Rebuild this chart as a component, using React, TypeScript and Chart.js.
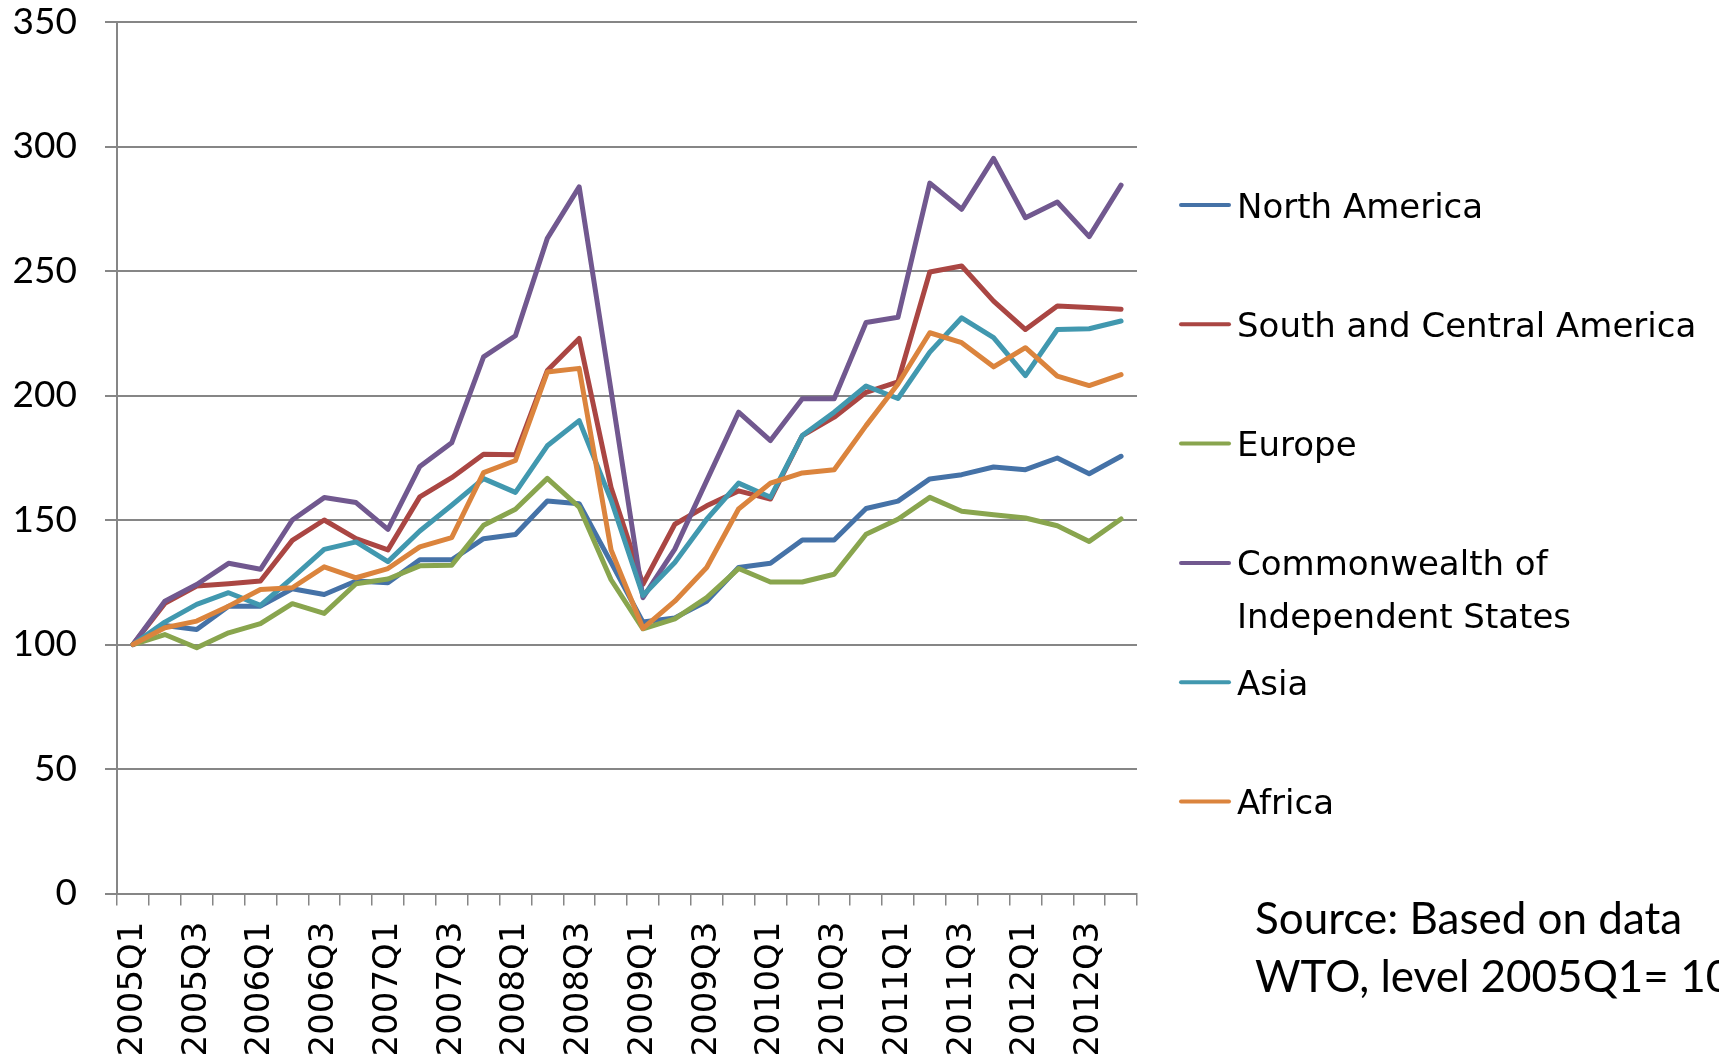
import React, { useEffect, useRef } from 'react';
import { Chart, registerables } from 'chart.js';

Chart.register(...registerables);

const quarters = [
  '2005Q1', '2005Q2', '2005Q3', '2005Q4',
  '2006Q1', '2006Q2', '2006Q3', '2006Q4',
  '2007Q1', '2007Q2', '2007Q3', '2007Q4',
  '2008Q1', '2008Q2', '2008Q3', '2008Q4',
  '2009Q1', '2009Q2', '2009Q3', '2009Q4',
  '2010Q1', '2010Q2', '2010Q3', '2010Q4',
  '2011Q1', '2011Q2', '2011Q3', '2011Q4',
  '2012Q1', '2012Q2', '2012Q3', '2012Q4',
];

const northAmerica = [100, 107.6, 106, 115.4, 115.4, 122.4, 120.1, 125.5, 124.8, 134, 134, 142.5, 144.2, 157.6, 156.5, 133, 109, 110.7, 117.4, 130.9, 132.6, 142, 142, 154.6, 157.6, 166.5, 168.2, 171.3, 170.2, 174.9, 168.6, 175.6];
const southCentralAmerica = [100, 116.5, 123.5, 124.4, 125.5, 141.8, 150, 142.5, 138, 159.3, 167, 176.4, 176.2, 210, 222.9, 163, 124.2, 148.3, 155.7, 161.7, 158.4, 183.9, 191.3, 201.3, 205.5, 249.6, 252, 237.9, 226.5, 235.9, 235.3, 234.6];
const europe = [100, 104, 98.7, 104.7, 108.4, 116.4, 112.5, 124.4, 126.3, 131.6, 131.8, 147.9, 154.3, 166.7, 155.2, 126, 106.3, 110.3, 118.8, 130.5, 125.1, 125.1, 128.2, 144.3, 150.3, 159.1, 153.5, 152.1, 150.8, 147.7, 141.4, 150.4];
const cis = [100, 117.4, 124.1, 132.6, 130.2, 150, 159, 157, 146.2, 171.5, 181, 215.5, 224, 263.1, 283.8, 202, 118.8, 138.3, 165.8, 193.3, 181.9, 198.7, 198.7, 229.3, 231.4, 285.3, 274.8, 295.2, 271.4, 277.7, 263.8, 284.5];
const asia = [100, 109, 116.1, 120.8, 115.7, 126.8, 138.2, 141.2, 133.3, 145.6, 155.9, 166.6, 161.1, 179.8, 189.9, 158, 119.7, 132.9, 150.3, 164.8, 159.1, 183.9, 193.3, 203.8, 198.8, 217.4, 231.2, 223.2, 208, 226.5, 226.8, 229.9];
const africa = [100, 106.7, 109.4, 115.4, 122.1, 122.8, 131.2, 126.8, 130.5, 139.2, 142.9, 169, 173.9, 209.4, 210.9, 138, 106.5, 117.4, 130.9, 154.4, 164.8, 168.9, 170.2, 187.9, 204.6, 225.2, 221.2, 211.5, 219.2, 207.8, 204, 208.4];

const seriesNames = ['North America', 'South and Central America', 'Europe', 'Commonwealth of Independent States', 'Asia', 'Africa'];
const seriesData = [northAmerica, southCentralAmerica, europe, cis, asia, africa];
const seriesColors = ['#4572A7', '#AA4643', '#89A54E', '#71588F', '#4198AF', '#DB843D'];
const legendLines = [['North America'], ['South and Central America'], ['Europe'], ['Commonwealth of', 'Independent States'], ['Asia'], ['Africa']];
const sourceLines = ['Source: Based on data', 'WTO, level 2005Q1= 100'];

const yMin = 0;
const yMax = 350;
const yStep = 50;

const GRID = '#868686';

const sideTextPlugin = {
  id: 'sideText',
  afterDraw(chart: any) {
    const ctx = chart.ctx as CanvasRenderingContext2D;
    ctx.save();
    ctx.font = '34px "DejaVu Sans"';
    ctx.textBaseline = 'alphabetic';
    ctx.textAlign = 'left';
    legendLines.forEach((lines, i) => {
      const y = 205 + i * 119.3;
      ctx.strokeStyle = seriesColors[i];
      ctx.lineWidth = 4;
      ctx.lineCap = 'round';
      ctx.beginPath();
      ctx.moveTo(1181, y);
      ctx.lineTo(1229, y);
      ctx.stroke();
      ctx.fillStyle = '#000';
      lines.forEach((t, j) => ctx.fillText(t, 1237, y + 12.5 + j * 52.5));
    });
    ctx.font = '44px Lato';
    ctx.fillStyle = '#000';
    sourceLines.forEach((t, j) => ctx.fillText(t, 1255, 934 + j * 58));
    ctx.restore();
  },
};

export default function App() {
  const canvasRef = useRef<HTMLCanvasElement | null>(null);

  useEffect(() => {
    const canvas = canvasRef.current;
    if (!canvas) return;
    const chart = new Chart(canvas, {
      type: 'line',
      data: {
        labels: quarters,
        datasets: seriesNames.map((name, i) => ({
          label: name,
          data: seriesData[i],
          borderColor: seriesColors[i],
          backgroundColor: seriesColors[i],
          borderWidth: 5,
          pointRadius: 0,
          pointHoverRadius: 0,
          fill: false,
          tension: 0,
          borderJoinStyle: 'round' as const,
          borderCapStyle: 'round' as const,
          order: seriesNames.length - i,
        })),
      },
      options: {
        responsive: false,
        animation: false,
        layout: { padding: { left: 0, right: 582, top: 22, bottom: 0 } },
        plugins: {
          legend: { display: false },
          tooltip: { enabled: false },
          title: { display: false },
        },
        scales: {
          x: {
            type: 'category',
            offset: true,
            grid: {
              offset: true,
              drawOnChartArea: false,
              drawTicks: true,
              tickLength: 12,
              color: GRID,
              lineWidth: 1.5,
            },
            border: { display: true, color: GRID, width: 2 },
            ticks: {
              autoSkip: false,
              maxRotation: 90,
              minRotation: 90,
              padding: 16,
              color: '#000',
              font: { family: 'DejaVu Sans', size: 34 },
              callback: (_v: any, i: number) => (i % 2 === 0 ? quarters[i] : ''),
            },
            afterFit: (s: any) => {
              s.height = 164.5;
              s.paddingLeft = 0;
              s.paddingRight = 0;
              s.paddingTop = 0;
              s.paddingBottom = 0;
            },
          },
          y: {
            min: yMin,
            max: yMax,
            ticks: {
              stepSize: yStep,
              padding: 28,
              color: '#000',
              font: { family: 'Lato', size: 37 },
            },
            grid: { color: GRID, lineWidth: 2, tickLength: 12 },
            border: { display: true, color: GRID, width: 2 },
            afterFit: (s: any) => {
              s.width = 117;
              s.paddingLeft = 0;
              s.paddingRight = 0;
              s.paddingTop = 0;
              s.paddingBottom = 0;
            },
          },
        },
      },
      plugins: [sideTextPlugin],
    });
    return () => chart.destroy();
  }, []);

  return (
    <div style={{ position: 'fixed', left: 0, top: 0, width: 1719, height: 1058, background: '#fff', overflow: 'hidden' }}>
      <canvas ref={canvasRef} width={1719} height={1058} style={{ display: 'block' }} />
    </div>
  );
}
